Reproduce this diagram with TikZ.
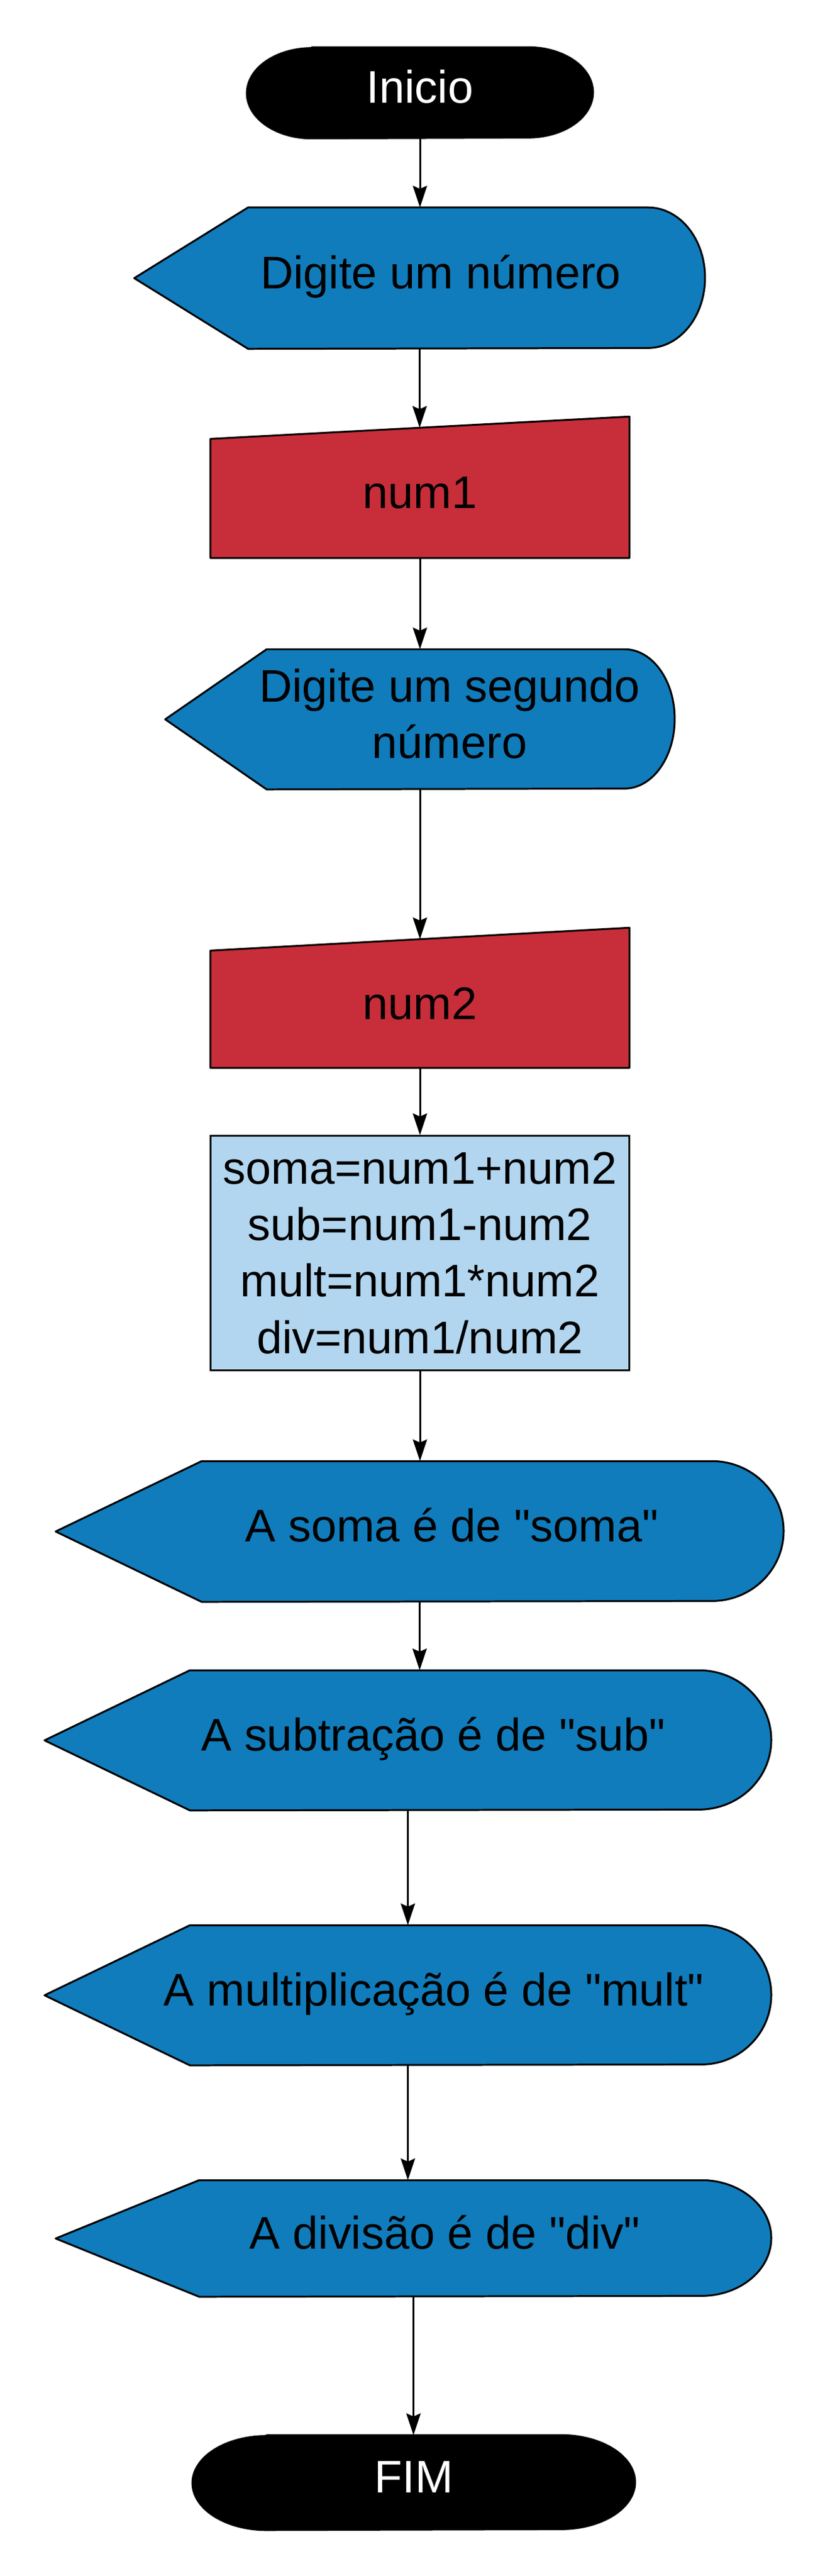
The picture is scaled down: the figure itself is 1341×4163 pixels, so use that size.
\documentclass[tikz,border=0pt]{standalone}
\usepackage{fontspec}
\setmainfont{Liberation Sans}
\usetikzlibrary{arrows.meta}
\usetikzlibrary{backgrounds}
\definecolor{dispblue}{RGB}{16,124,187}
\definecolor{inred}{RGB}{199,46,58}
\definecolor{procblue}{RGB}{179,214,240}
\newcommand\qt{\textquotedbl{}}
% display outline: node, point depth, arc x radius, arc y radius
\newcommand\drawdisp[4]{\begin{scope}[on background layer]
  \draw[outline,fill=dispblue] (#1.west) -- ([xshift=#2]#1.north west) -- ([xshift=-#3]#1.north east)
    arc[start angle=90,end angle=-90,x radius=#3,y radius=#4] -- ([xshift=#2]#1.south west) -- cycle;
  \end{scope}}
% terminal outline: node, arc x radius, arc y radius
\newcommand\drawterm[3]{\begin{scope}[on background layer]
  \draw[outline,fill=black] ([xshift=#2]#1.north west) -- ([xshift=-#2]#1.north east)
    arc[start angle=90,end angle=-90,x radius=#2,y radius=#3] -- ([xshift=#2]#1.south west)
    arc[start angle=270,end angle=90,x radius=#2,y radius=#3] -- cycle;
  \end{scope}}
% manual input outline: node, half slant
\newcommand\drawinput[2]{\begin{scope}[on background layer]
  \draw[outline,fill=inred] ([yshift=-#2]#1.north west) -- ([yshift=#2]#1.north east) -- (#1.south east) -- (#1.south west) -- cycle;
  \end{scope}}
\tikzset{
	outline/.style={draw=black,line width=0.85pt,line join=round},
	term/.style={rectangle,text=white,inner sep=0pt,text height=0.55cm,text depth=0.22cm},
	disp/.style={rectangle,inner sep=0pt},
	dtext/.style={align=center,xshift=#1,text height=0.55cm,text depth=0.22cm},
	dtext2/.style={align=center,xshift=#1,yshift=0.09cm},
	input/.style={rectangle,inner sep=0pt,minimum width=6.76cm},
	proc/.style={rectangle,draw=black,line width=0.85pt,fill=procblue,align=center,inner sep=0pt,minimum width=6.76cm,minimum height=3.78cm},
	flow/.style={->,line width=0.85pt},
	>={Stealth[length=3.5mm,width=2.3mm,inset=0.5mm]},
	}

\begin{document}
\begin{tikzpicture}[x=0.01cm,y=0.01cm,every node/.append style={font=\fontsize{21pt}{25.9pt}\selectfont}]
\useasboundingbox (0,0) rectangle (1341,-4163);

\node[term,minimum width=5.58cm,minimum height=1.46cm] (inicio) at (679,-150) {Inicio};
\node[disp,minimum width=9.21cm,minimum height=2.27cm,label={[dtext=0.34cm]center:Digite um número}] (d1) at (678.5,-449.5) {};
\node[input,minimum height=2.09cm] (num1) at (679,-796.5) {num1};
\node[disp,minimum width=8.22cm,minimum height=2.25cm,label={[dtext2=0.48cm]center:{Digite um segundo\\número}}] (d2) at (679,-1162.5) {};
\node[input,minimum height=2.065cm] (num2) at (679,-1621.75) {num2};
\node[proc] (calc) at (679,-2025) {soma=num1+num2\\sub=num1-num2\\mult=num1*num2\\div=num1/num2};
\node[disp,minimum width=11.75cm,minimum height=2.26cm,label={[dtext=0.52cm]center:A soma é de \qt soma\qt}] (d3) at (678.5,-2475) {};
\node[disp,minimum width=11.73cm,minimum height=2.25cm,label={[dtext=0.41cm]center:A subtração é de \qt sub\qt}] (d4) at (659.5,-2812.5) {};
\node[disp,minimum width=11.73cm,minimum height=2.25cm,label={[dtext=0.42cm]center:A multiplicação é de \qt mult\qt}] (d5) at (659.5,-3224.5) {};
\node[disp,minimum width=11.55cm,minimum height=1.87cm,label={[dtext=0.51cm]center:A divisão é de \qt div\qt}] (d6) at (668.5,-3617.5) {};
\node[term,minimum width=7.14cm,minimum height=1.52cm] (fim) at (669,-4012) {FIM};

\foreach \n/\p/\r/\h in {d1/1.84/0.92/1.135,d2/1.64/0.81/1.125,d3/2.36/1.16/1.13,d4/2.35/1.17/1.125,d5/2.35/1.13/1.125,d6/2.32/1.13/0.935}
  \drawdisp{\n}{\p cm}{\r cm}{\h cm};
\drawterm{inicio}{1.05cm}{0.73cm}
\drawterm{fim}{1.2cm}{0.76cm}
\drawinput{num1}{0.18cm}
\drawinput{num2}{0.185cm}

\draw[flow] (inicio.south) -- (inicio.south |- d1.north);
\draw[flow] (d1.south) -- (d1.south |- num1.north);
\draw[flow] (num1.south) -- (num1.south |- d2.north);
\draw[flow] (d2.south) -- (d2.south |- num2.north);
\draw[flow] (num2.south) -- (num2.south |- calc.north);
\draw[flow] (calc.south) -- (calc.south |- d3.north);
\draw[flow] (d3.south) -- (d3.south |- d4.north);
\draw[flow] (d4.south) -- (d4.south |- d5.north);
\draw[flow] (d5.south) -- (d5.south |- d6.north);
\draw[flow] (d6.south) -- (d6.south |- fim.north);
\end{tikzpicture}
\end{document}
